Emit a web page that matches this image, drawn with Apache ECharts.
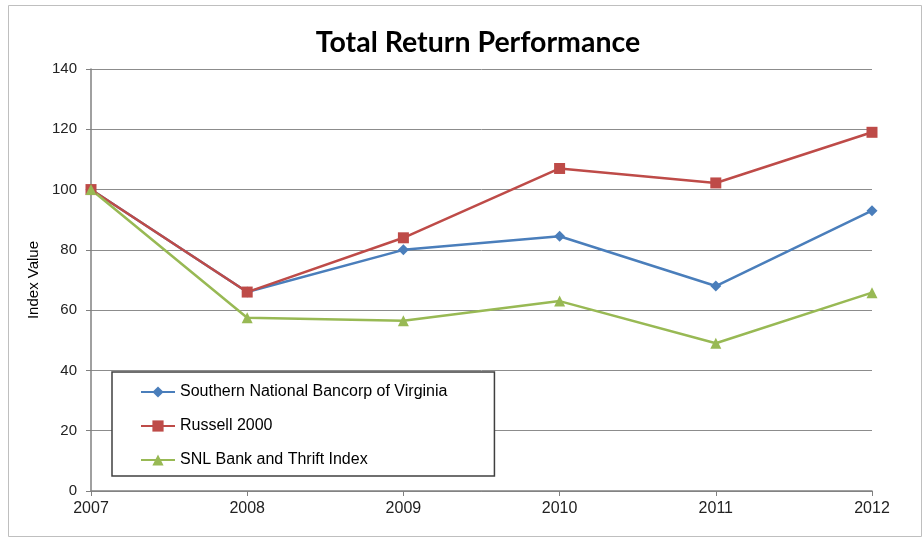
<!DOCTYPE html>
<html>
<head>
<meta charset="utf-8">
<script src="https://cdn.jsdelivr.net/npm/echarts@6/dist/echarts.min.js"></script>
<style>
  html, body { margin: 0; padding: 0; background: #fff; }
  #chart { width: 923px; height: 538px; }
</style>
</head>
<body>
<div id="chart"></div>
<script>
const years = ["2007", "2008", "2009", "2010", "2011", "2012"];
const southernNational = [100, 66, 80, 84.5, 68, 93];
const russell2000 = [100, 66, 84, 107, 102.2, 119];
const snlBankThrift = [100, 57.5, 56.5, 63, 49, 65.8];

const chart = echarts.init(document.getElementById('chart'));

const lineSeries = (name, data, color, symbol, size) => ({
    name: name,
    type: 'line',
    data: data,
    symbol: symbol,
    symbolSize: size,
    lineStyle: { color: color, width: 2.5 },
    itemStyle: { color: color },
    emphasis: { disabled: true }
});

chart.setOption({
    animation: false,
    title: {
        text: 'Total Return Performance',
        left: 473,
        textAlign: 'center',
        top: 23,
        textStyle: { fontFamily: 'Lato', fontWeight: 'bold', fontSize: 28.5, color: '#000' }
    },
    graphic: [{
        type: 'rect',
        shape: { x: 8.5, y: 5.5, width: 913, height: 531 },
        style: { fill: 'none', stroke: '#bfbfbf', lineWidth: 1 },
        z: -1
    }],
    grid: { left: 91, right: 51, top: 69, bottom: 47 },
    legend: {
        orient: 'vertical',
        left: 112,
        top: 372,
        padding: [12, 47, 8, 28],
        itemGap: 18,
        itemWidth: 34,
        itemHeight: 14,
        backgroundColor: '#fff',
        borderColor: '#404040',
        borderWidth: 1.5,
        textStyle: { fontFamily: 'Liberation Sans', fontSize: 16, color: '#000' },
        data: ['Southern National Bancorp of Virginia', 'Russell 2000', 'SNL Bank and Thrift Index']
    },
    xAxis: {
        type: 'category',
        data: years,
        boundaryGap: false,
        axisLine: { lineStyle: { color: '#808080', width: 1.5 } },
        axisTick: { alignWithLabel: true, length: 5, lineStyle: { color: '#808080' } },
        axisLabel: { fontFamily: 'Liberation Sans', fontSize: 16, color: '#222', margin: 10 }
    },
    yAxis: {
        type: 'value',
        min: 0,
        max: 140,
        interval: 20,
        name: 'Index Value',
        nameLocation: 'middle',
        nameGap: 40,
        nameTextStyle: { fontFamily: 'Liberation Sans', fontSize: 15, color: '#000' },
        axisLine: { show: true, lineStyle: { color: '#808080', width: 1.5 } },
        axisTick: { show: true, length: 5, lineStyle: { color: '#808080' } },
        axisLabel: { fontFamily: 'Liberation Sans', fontSize: 15, color: '#222', margin: 14 },
        splitLine: { lineStyle: { color: '#8c8c8c', width: 1 } }
    },
    series: [
        lineSeries('Southern National Bancorp of Virginia', southernNational, '#4a7ebb', 'diamond', 11),
        lineSeries('Russell 2000', russell2000, '#be4b48', 'rect', 11),
        lineSeries('SNL Bank and Thrift Index', snlBankThrift, '#98b954', 'triangle', 11)
    ]
});

window.addEventListener('resize', () => chart.resize());
</script>
</body>
</html>
